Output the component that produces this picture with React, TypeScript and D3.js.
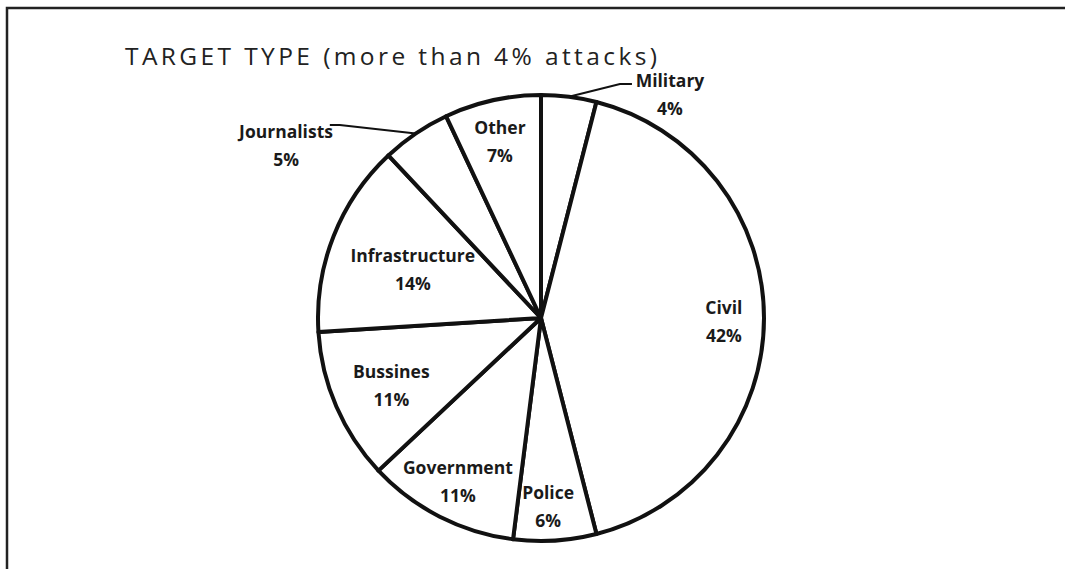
import React from "react";
import * as d3 from "d3";

const categories = ["Military", "Civil", "Police", "Government", "Bussines", "Infrastructure", "Journalists", "Other"];
const values = [4, 42, 6, 11, 11, 14, 5, 7];
const title = "TARGET TYPE (more than 4% attacks)";

// label layout: angle (deg, clockwise from top) and radius factor of label anchor
const labelLayout: Record<string, { a?: number; k: number; outside?: boolean; elbowA?: number; elbowK?: number; tail?: number }> = {
  Military: { a: 29.6, k: 1.171, outside: true, elbowA: 18.65, elbowK: 1.107, tail: 12 },
  Civil: { k: 0.82 },
  Police: { a: 177.8, k: 0.83 },
  Government: { a: 207.4, k: 0.81 },
  Bussines: { a: 246.8, k: 0.73 },
  Infrastructure: { a: 292, k: 0.62 },
  Journalists: { a: 304.6, k: 1.389, outside: true, elbowA: 313.8, elbowK: 1.25, tail: -10 },
  Other: { a: 347.2, k: 0.83 },
};

const W = 1065;
const H = 569;
const cx = 541;
const cy = 318;
const R = 223;

function polar(deg: number, r: number): [number, number] {
  const t = (deg * Math.PI) / 180;
  return [cx + r * Math.sin(t), cy - r * Math.cos(t)];
}

export default function App() {
  const data = categories.map((c, i) => ({ c, v: values[i] }));
  const pie = d3.pie<{ c: string; v: number }>().value((d) => d.v).sort(null);
  const arcs = pie(data);
  const arc = d3.arc<d3.PieArcDatum<{ c: string; v: number }>>().innerRadius(0).outerRadius(R);
  const total = d3.sum(values);

  return (
    <svg width={W} height={H} style={{ position: "absolute", left: 0, top: 0, background: "#fff" }}>
      <path d={`M7,${H} V8 H${W}`} fill="none" stroke="#222" strokeWidth={2.5} />
      <text x={125} y={65} fontFamily="'Open Sans', sans-serif" fontSize={24} fill="#222" textLength={532} lengthAdjust="spacing" style={{ fontSize: 24 }}>
        <tspan style={{ fontSize: 24.5 }}>{title}</tspan>
      </text>
      <g transform={`translate(${cx},${cy})`}>
        {arcs.map((a) => (
          <path key={a.data.c} d={arc(a) || ""} fill="#fff" stroke="#111" strokeWidth={4} strokeLinejoin="round" />
        ))}
      </g>
      {arcs.map((a) => {
        const L = labelLayout[a.data.c];
        const midDeg = (((a.startAngle + a.endAngle) / 2) * 180) / Math.PI;
        const ang = L.a ?? midDeg;
        const [x, y] = polar(ang, L.k * R);
        const pct = Math.round((a.data.v / total) * 100) + "%";
        let leader = null;
        if (L.outside && L.elbowA !== undefined && L.elbowK !== undefined) {
          const [sx, sy] = polar(midDeg, R);
          const [ex, ey] = polar(L.elbowA, L.elbowK * R);
          leader = (
            <path d={`M${sx},${sy} L${ex},${ey} H${ex + (L.tail || 0)}`} fill="none" stroke="#111" strokeWidth={2} />
          );
        }
        return (
          <g key={a.data.c}>
            {leader}
            <text
              x={x}
              y={y}
              textAnchor="middle"
              fontFamily="'Open Sans', sans-serif"
              fontWeight={700}
              fontSize={17.5}
              fill="#1a1a1a"
            >
              <tspan x={x} y={y - 4}>{a.data.c}</tspan>
              <tspan x={x} y={y + 24}>{pct}</tspan>
            </text>
          </g>
        );
      })}
    </svg>
  );
}
